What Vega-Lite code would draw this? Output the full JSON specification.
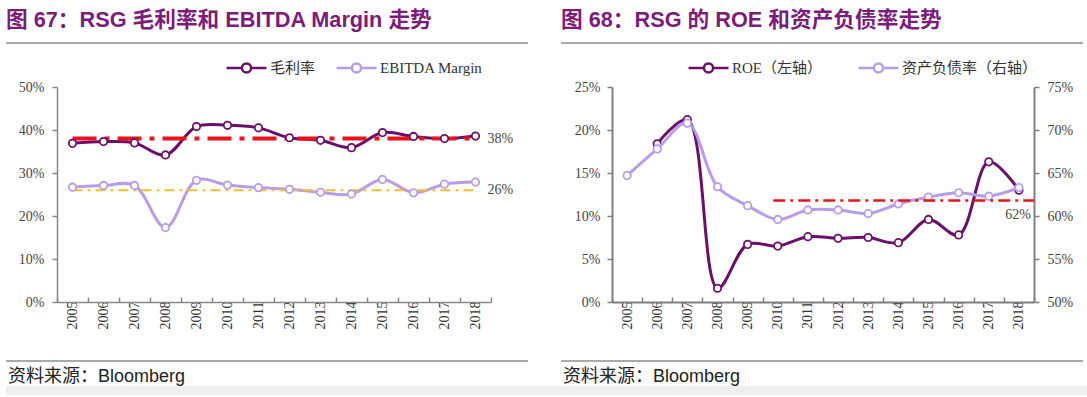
{
  "$schema": "https://vega.github.io/schema/vega-lite/v6.json",
  "padding": {"left": 5, "top": 9, "right": 0, "bottom": 0},
  "background": "white",
  "config": {"view": {"stroke": null}},
  "datasets": {
    "margin": [
      {"year": "2005", "series": "毛利率", "value": 0.369},
      {"year": "2006", "series": "毛利率", "value": 0.373},
      {"year": "2007", "series": "毛利率", "value": 0.370},
      {"year": "2008", "series": "毛利率", "value": 0.342},
      {"year": "2009", "series": "毛利率", "value": 0.408},
      {"year": "2010", "series": "毛利率", "value": 0.411},
      {"year": "2011", "series": "毛利率", "value": 0.405},
      {"year": "2012", "series": "毛利率", "value": 0.382},
      {"year": "2013", "series": "毛利率", "value": 0.376},
      {"year": "2014", "series": "毛利率", "value": 0.359},
      {"year": "2015", "series": "毛利率", "value": 0.394},
      {"year": "2016", "series": "毛利率", "value": 0.385},
      {"year": "2017", "series": "毛利率", "value": 0.380},
      {"year": "2018", "series": "毛利率", "value": 0.386},
      {"year": "2005", "series": "EBITDA Margin", "value": 0.267},
      {"year": "2006", "series": "EBITDA Margin", "value": 0.271},
      {"year": "2007", "series": "EBITDA Margin", "value": 0.271},
      {"year": "2008", "series": "EBITDA Margin", "value": 0.173},
      {"year": "2009", "series": "EBITDA Margin", "value": 0.283},
      {"year": "2010", "series": "EBITDA Margin", "value": 0.272},
      {"year": "2011", "series": "EBITDA Margin", "value": 0.266},
      {"year": "2012", "series": "EBITDA Margin", "value": 0.262},
      {"year": "2013", "series": "EBITDA Margin", "value": 0.255},
      {"year": "2014", "series": "EBITDA Margin", "value": 0.251},
      {"year": "2015", "series": "EBITDA Margin", "value": 0.285},
      {"year": "2016", "series": "EBITDA Margin", "value": 0.254},
      {"year": "2017", "series": "EBITDA Margin", "value": 0.274},
      {"year": "2018", "series": "EBITDA Margin", "value": 0.279}
    ],
    "ref38": [{"year": "2005", "value": 0.38}, {"year": "2018", "value": 0.38}],
    "ref26": [{"year": "2005", "value": 0.26}, {"year": "2018", "value": 0.26}],
    "refLabels": [{"year": "2018", "value": 0.38, "label": "38%"}, {"year": "2018", "value": 0.26, "label": "26%"}],
    "roe": [
      {"year": "2006", "metric": "ROE（左轴）", "value": 0.184},
      {"year": "2007", "metric": "ROE（左轴）", "value": 0.212},
      {"year": "2008", "metric": "ROE（左轴）", "value": 0.016},
      {"year": "2009", "metric": "ROE（左轴）", "value": 0.067},
      {"year": "2010", "metric": "ROE（左轴）", "value": 0.065},
      {"year": "2011", "metric": "ROE（左轴）", "value": 0.076},
      {"year": "2012", "metric": "ROE（左轴）", "value": 0.074},
      {"year": "2013", "metric": "ROE（左轴）", "value": 0.075},
      {"year": "2014", "metric": "ROE（左轴）", "value": 0.069},
      {"year": "2015", "metric": "ROE（左轴）", "value": 0.096},
      {"year": "2016", "metric": "ROE（左轴）", "value": 0.078},
      {"year": "2017", "metric": "ROE（左轴）", "value": 0.163},
      {"year": "2018", "metric": "ROE（左轴）", "value": 0.130}
    ],
    "lev": [
      {"year": "2005", "metric": "资产负债率（右轴）", "value": 0.647},
      {"year": "2006", "metric": "资产负债率（右轴）", "value": 0.678},
      {"year": "2007", "metric": "资产负债率（右轴）", "value": 0.708},
      {"year": "2008", "metric": "资产负债率（右轴）", "value": 0.634},
      {"year": "2009", "metric": "资产负债率（右轴）", "value": 0.612},
      {"year": "2010", "metric": "资产负债率（右轴）", "value": 0.596},
      {"year": "2011", "metric": "资产负债率（右轴）", "value": 0.607},
      {"year": "2012", "metric": "资产负债率（右轴）", "value": 0.607},
      {"year": "2013", "metric": "资产负债率（右轴）", "value": 0.603},
      {"year": "2014", "metric": "资产负债率（右轴）", "value": 0.614},
      {"year": "2015", "metric": "资产负债率（右轴）", "value": 0.622},
      {"year": "2016", "metric": "资产负债率（右轴）", "value": 0.627},
      {"year": "2017", "metric": "资产负债率（右轴）", "value": 0.623},
      {"year": "2018", "metric": "资产负债率（右轴）", "value": 0.633}
    ],
    "ref62": [{"year": "2010", "value": 0.618}],
    "ref62Label": [{"year": "2018", "value": 0.618, "label": "62%"}],
    "sep": [{"start": 0, "end": 1, "pos": 0}],
    "strip": [{"start": 0, "end": 1, "lo": 0, "hi": 1}],
    "head1": [{"x": 0, "pos": 0.767, "label": "图 67：RSG 毛利率和 EBITDA Margin  走势"}],
    "head2": [{"x": 0, "pos": 0.767, "label": "图 68：RSG  的 ROE 和资产负债率走势"}],
    "src": [{"x": 0, "pos": 0.64, "label": "资料来源：Bloomberg"}]
  },
  "resolve": {"scale": {"color": "independent"}, "legend": {"color": "independent"}},
  "spacing": 0,
  "vconcat": [
    {
      "resolve": {"scale": {"color": "independent"}, "legend": {"color": "independent"}},
      "spacing": 31,
      "hconcat": [
        {
          "vconcat": [
            {
              "width": 522, "height": 30,
              "layer": [
                {
                  "data": {"name": "head1"},
                  "mark": {"type": "text", "align": "left", "baseline": "middle", "font": "Liberation Sans, Noto Sans CJK SC", "fontSize": 21.7, "fontWeight": "bold", "color": "#7B1C7A"},
                  "encoding": {
                    "x": {"field": "x", "type": "quantitative", "scale": {"domain": [0, 1]}, "axis": null},
                    "y": {"field": "pos", "type": "quantitative", "scale": {"domain": [0, 1]}, "axis": null},
                    "text": {"field": "label"}
                  }
                },
                {
                  "data": {"name": "sep"},
                  "mark": {"type": "rule", "color": "#555", "strokeWidth": 1},
                  "encoding": {
                    "x": {"field": "start", "type": "quantitative"},
                    "x2": {"field": "end"},
                    "y": {"field": "pos", "type": "quantitative"}
                  }
                }
              ]
            },
            {
              "spacing": 0,
              "resolve": {"scale": {"color": "independent"}, "legend": {"color": "independent"}},
              "hconcat": [
                {
                  "width": 1, "height": 215,
                  "data": {"values": []},
                  "mark": "text",
                  "encoding": {}
                },
                {
                  "width": 434, "height": 215,
                  "layer": [
                    {
                      "data": {"name": "margin"},
                      "mark": {"type": "line", "strokeWidth": 3, "interpolate": "catmull-rom"},
                      "encoding": {
                        "x": {"field": "year", "type": "nominal", "bandPosition": 0.5, "scale": {"type": "band", "domain": ["2005","2006","2007","2008","2009","2010","2011","2012","2013","2014","2015","2016","2017","2018"], "paddingInner": 0, "paddingOuter": 0}, "title": null,
                          "axis": {"title": null, "labelAngle": 270, "labelAlign": "right", "labelBaseline": "middle", "labelFont": "Liberation Serif", "labelFontSize": 14, "labelColor": "#333", "labelPadding": 4, "tickBand": "extent", "tickSize": -5, "tickColor": "#888", "tickWidth": 1.5, "domainColor": "#888", "domainWidth": 1.5, "minExtent": 43}},
                        "y": {"field": "value", "type": "quantitative", "title": null, "scale": {"domain": [0, 0.5], "nice": false},
                          "axis": {"title": null, "values": [0, 0.1, 0.2, 0.3, 0.4, 0.5], "format": ".0%", "grid": false, "labelFont": "Liberation Serif", "labelFontSize": 14, "labelColor": "#444", "tickSize": 5, "labelPadding": 8, "tickColor": "#888", "tickWidth": 1.5, "domainColor": "#888", "domainWidth": 1.5, "minExtent": 50}},
                        "color": {"field": "series", "type": "nominal", "scale": {"domain": ["毛利率", "EBITDA Margin"], "range": ["#6B1068", "#B99CE6"]},
                          "legend": {"orient": "none", "legendX": 181, "legendY": -28, "offset": 0, "direction": "horizontal", "title": null, "symbolType": "M-2.85,0L-0.65,0M0.65,0L2.85,0M0.65,0A0.65,0.65,0,1,1,-0.65,0A0.65,0.65,0,1,1,0.65,0Z", "symbolSize": 196, "symbolStrokeWidth": 2.5, "labelFont": "Liberation Serif, Noto Sans CJK SC", "labelFontSize": 15, "labelColor": "#333", "labelOffset": 15, "columnPadding": 15, "padding": 0, "encode": {"symbols": {"update": {"fill": {"value": "white"}}}}}}
                      }
                    },
                    {
                      "data": {"name": "ref38"},
                      "mark": {"type": "line", "color": "#E8141B", "strokeWidth": 4, "strokeDash": [24, 8, 5, 8]},
                      "encoding": {
                        "x": {"field": "year", "type": "nominal", "bandPosition": 0.5},
                        "y": {"field": "value", "type": "quantitative"}
                      }
                    },
                    {
                      "data": {"name": "ref26"},
                      "mark": {"type": "line", "color": "#F0C030", "strokeWidth": 2, "strokeDash": [10, 5, 3, 5]},
                      "encoding": {
                        "x": {"field": "year", "type": "nominal", "bandPosition": 0.5},
                        "y": {"field": "value", "type": "quantitative"}
                      }
                    },
                    {
                      "data": {"name": "margin"},
                      "mark": {"type": "point", "shape": "circle", "filled": false, "fill": "white", "size": 55, "strokeWidth": 1.8, "opacity": 1},
                      "encoding": {
                        "x": {"field": "year", "type": "nominal", "bandPosition": 0.5},
                        "y": {"field": "value", "type": "quantitative"},
                        "color": {"field": "series", "type": "nominal",
                          "legend": {"orient": "none", "legendX": 181, "legendY": -28, "offset": 0, "direction": "horizontal", "title": null, "symbolType": "M-2.85,0L-0.65,0M0.65,0L2.85,0M0.65,0A0.65,0.65,0,1,1,-0.65,0A0.65,0.65,0,1,1,0.65,0Z", "symbolSize": 196, "symbolStrokeWidth": 2.5, "labelFont": "Liberation Serif, Noto Sans CJK SC", "labelFontSize": 15, "labelColor": "#333", "labelOffset": 15, "columnPadding": 15, "padding": 0, "encode": {"symbols": {"update": {"fill": {"value": "white"}}}}}}
                      }
                    },
                    {
                      "data": {"name": "refLabels"},
                      "mark": {"type": "text", "align": "left", "baseline": "middle", "dx": 12, "font": "Liberation Serif", "fontSize": 14, "color": "#444"},
                      "encoding": {
                        "x": {"field": "year", "type": "nominal", "bandPosition": 0.5},
                        "y": {"field": "value", "type": "quantitative"},
                        "text": {"field": "label"}
                      }
                    }
                  ]
                }
              ]
            },
            {
              "width": 522, "height": 25,
              "layer": [
                {
                  "data": {"name": "sep"},
                  "mark": {"type": "rule", "color": "#555", "strokeWidth": 1},
                  "encoding": {
                    "x": {"field": "start", "type": "quantitative", "scale": {"domain": [0, 1]}, "axis": null},
                    "x2": {"field": "end"},
                    "y": {"field": "pos", "type": "quantitative", "scale": {"domain": [0, 1], "reverse": true}, "axis": null}
                  }
                },
                {
                  "data": {"name": "src"},
                  "mark": {"type": "text", "align": "left", "baseline": "middle", "dx": 2, "font": "Liberation Sans, Noto Sans CJK SC", "fontSize": 18, "color": "#222"},
                  "encoding": {
                    "x": {"field": "x", "type": "quantitative"},
                    "y": {"field": "pos", "type": "quantitative"},
                    "text": {"field": "label"}
                  }
                }
              ]
            }
          ],
          "spacing": 15
        },
        {
          "vconcat": [
            {
              "width": 522, "height": 30,
              "layer": [
                {
                  "data": {"name": "head2"},
                  "mark": {"type": "text", "align": "left", "baseline": "middle", "font": "Liberation Sans, Noto Sans CJK SC", "fontSize": 21.7, "fontWeight": "bold", "color": "#7B1C7A"},
                  "encoding": {
                    "x": {"field": "x", "type": "quantitative", "scale": {"domain": [0, 1]}, "axis": null},
                    "y": {"field": "pos", "type": "quantitative", "scale": {"domain": [0, 1]}, "axis": null},
                    "text": {"field": "label"}
                  }
                },
                {
                  "data": {"name": "sep"},
                  "mark": {"type": "rule", "color": "#555", "strokeWidth": 1},
                  "encoding": {
                    "x": {"field": "start", "type": "quantitative"},
                    "x2": {"field": "end"},
                    "y": {"field": "pos", "type": "quantitative"}
                  }
                }
              ]
            },
            {
              "spacing": 0,
              "resolve": {"scale": {"color": "independent"}, "legend": {"color": "independent"}},
              "hconcat": [
                {
                  "width": 1, "height": 215,
                  "data": {"values": []},
                  "mark": "text",
                  "encoding": {}
                },
                {
                  "width": 422, "height": 215,
                  "layer": [
                    {
                      "layer": [
                        {
                          "data": {"name": "roe"},
                          "mark": {"type": "line", "strokeWidth": 3, "interpolate": "catmull-rom"},
                          "encoding": {
                            "x": {"field": "year", "type": "nominal", "bandPosition": 0.5, "scale": {"type": "band", "domain": ["2005","2006","2007","2008","2009","2010","2011","2012","2013","2014","2015","2016","2017","2018"], "paddingInner": 0, "paddingOuter": 0}, "title": null,
                              "axis": {"title": null, "labelAngle": 270, "labelAlign": "right", "labelBaseline": "middle", "labelFont": "Liberation Serif", "labelFontSize": 14, "labelColor": "#333", "labelPadding": 4, "tickBand": "extent", "tickSize": -5, "tickColor": "#7f7f7f", "tickWidth": 1.5, "domainColor": "#7f7f7f", "domainWidth": 2, "minExtent": 43}},
                            "y": {"field": "value", "type": "quantitative", "title": null, "scale": {"domain": [0, 0.25], "nice": false},
                              "axis": {"title": null, "orient": "left", "values": [0, 0.05, 0.1, 0.15, 0.2, 0.25], "format": ".0%", "grid": false, "labelFont": "Liberation Serif", "labelFontSize": 14, "labelColor": "#444", "tickSize": 5, "labelPadding": 7, "tickColor": "#7f7f7f", "tickWidth": 1.5, "domainColor": "#7f7f7f", "domainWidth": 2, "minExtent": 50}},
                            "color": {"field": "metric", "type": "nominal", "scale": {"domain": ["ROE（左轴）", "资产负债率（右轴）"], "range": ["#6B1068", "#B99CE6"]},
                              "legend": {"orient": "none", "legendX": 88, "legendY": -28, "offset": 0, "direction": "horizontal", "title": null, "symbolType": "M-2.85,0L-0.65,0M0.65,0L2.85,0M0.65,0A0.65,0.65,0,1,1,-0.65,0A0.65,0.65,0,1,1,0.65,0Z", "symbolSize": 196, "symbolStrokeWidth": 2.5, "labelFont": "Liberation Serif, Noto Sans CJK SC", "labelFontSize": 15, "labelColor": "#333", "labelOffset": 15, "columnPadding": 30, "padding": 0, "encode": {"symbols": {"update": {"fill": {"value": "white"}}}}}}
                          }
                        },
                        {
                          "data": {"name": "roe"},
                          "mark": {"type": "point", "shape": "circle", "filled": false, "fill": "white", "size": 55, "strokeWidth": 1.8, "opacity": 1},
                          "encoding": {
                            "x": {"field": "year", "type": "nominal", "bandPosition": 0.5},
                            "y": {"field": "value", "type": "quantitative"},
                            "color": {"field": "metric", "type": "nominal",
                              "legend": {"orient": "none", "legendX": 88, "legendY": -28, "offset": 0, "direction": "horizontal", "title": null, "symbolType": "M-2.85,0L-0.65,0M0.65,0L2.85,0M0.65,0A0.65,0.65,0,1,1,-0.65,0A0.65,0.65,0,1,1,0.65,0Z", "symbolSize": 196, "symbolStrokeWidth": 2.5, "labelFont": "Liberation Serif, Noto Sans CJK SC", "labelFontSize": 15, "labelColor": "#333", "labelOffset": 15, "columnPadding": 30, "padding": 0, "encode": {"symbols": {"update": {"fill": {"value": "white"}}}}}}
                          }
                        }
                      ]
                    },
                    {
                      "layer": [
                        {
                          "data": {"name": "lev"},
                          "mark": {"type": "line", "strokeWidth": 3, "interpolate": "catmull-rom"},
                          "encoding": {
                            "x": {"field": "year", "type": "nominal", "bandPosition": 0.5},
                            "y": {"field": "value", "type": "quantitative", "title": null, "scale": {"domain": [0.5, 0.75], "nice": false, "zero": false},
                              "axis": {"title": null, "orient": "right", "values": [0.5, 0.55, 0.6, 0.65, 0.7, 0.75], "format": ".0%", "grid": false, "labelFont": "Liberation Serif", "labelFontSize": 14, "labelColor": "#444", "tickSize": 5, "labelPadding": 8, "tickColor": "#7f7f7f", "tickWidth": 1.5, "domainColor": "#7f7f7f", "domainWidth": 2}},
                            "color": {"field": "metric", "type": "nominal",
                              "legend": {"orient": "none", "legendX": 88, "legendY": -28, "offset": 0, "direction": "horizontal", "title": null, "symbolType": "M-2.85,0L-0.65,0M0.65,0L2.85,0M0.65,0A0.65,0.65,0,1,1,-0.65,0A0.65,0.65,0,1,1,0.65,0Z", "symbolSize": 196, "symbolStrokeWidth": 2.5, "labelFont": "Liberation Serif, Noto Sans CJK SC", "labelFontSize": 15, "labelColor": "#333", "labelOffset": 15, "columnPadding": 30, "padding": 0, "encode": {"symbols": {"update": {"fill": {"value": "white"}}}}}}
                          }
                        },
                        {
                          "data": {"name": "lev"},
                          "mark": {"type": "point", "shape": "circle", "filled": false, "fill": "white", "size": 55, "strokeWidth": 1.8, "opacity": 1},
                          "encoding": {
                            "x": {"field": "year", "type": "nominal", "bandPosition": 0.5},
                            "y": {"field": "value", "type": "quantitative"},
                            "color": {"field": "metric", "type": "nominal",
                              "legend": {"orient": "none", "legendX": 88, "legendY": -28, "offset": 0, "direction": "horizontal", "title": null, "symbolType": "M-2.85,0L-0.65,0M0.65,0L2.85,0M0.65,0A0.65,0.65,0,1,1,-0.65,0A0.65,0.65,0,1,1,0.65,0Z", "symbolSize": 196, "symbolStrokeWidth": 2.5, "labelFont": "Liberation Serif, Noto Sans CJK SC", "labelFontSize": 15, "labelColor": "#333", "labelOffset": 15, "columnPadding": 30, "padding": 0, "encode": {"symbols": {"update": {"fill": {"value": "white"}}}}}}
                          }
                        },
                        {
                          "data": {"name": "ref62"},
                          "mark": {"type": "rule", "color": "#E8141B", "strokeWidth": 2.5, "strokeDash": [12, 5, 3, 5]},
                          "encoding": {
                            "x": {"field": "year", "type": "nominal", "bandPosition": 0.35},
                            "x2": {"value": "width"},
                            "y": {"field": "value", "type": "quantitative"}
                          }
                        },
                        {
                          "data": {"name": "ref62Label"},
                          "mark": {"type": "text", "align": "right", "baseline": "middle", "dx": -3, "dy": 14, "font": "Liberation Serif", "fontSize": 14, "color": "#444"},
                          "encoding": {
                            "x": {"field": "year", "type": "nominal", "bandPosition": 1},
                            "y": {"field": "value", "type": "quantitative"},
                            "text": {"field": "label"}
                          }
                        }
                      ]
                    }
                  ],
                  "resolve": {"scale": {"y": "independent"}}
                }
              ]
            },
            {
              "width": 522, "height": 25,
              "layer": [
                {
                  "data": {"name": "sep"},
                  "mark": {"type": "rule", "color": "#555", "strokeWidth": 1},
                  "encoding": {
                    "x": {"field": "start", "type": "quantitative", "scale": {"domain": [0, 1]}, "axis": null},
                    "x2": {"field": "end"},
                    "y": {"field": "pos", "type": "quantitative", "scale": {"domain": [0, 1], "reverse": true}, "axis": null}
                  }
                },
                {
                  "data": {"name": "src"},
                  "mark": {"type": "text", "align": "left", "baseline": "middle", "dx": 2, "font": "Liberation Sans, Noto Sans CJK SC", "fontSize": 18, "color": "#222"},
                  "encoding": {
                    "x": {"field": "x", "type": "quantitative"},
                    "y": {"field": "pos", "type": "quantitative"},
                    "text": {"field": "label"}
                  }
                }
              ]
            }
          ],
          "spacing": 15
        }
      ]
    },
    {
      "width": 1082, "height": 9,
      "data": {"name": "strip"},
      "mark": {"type": "rect", "color": "#efefef"},
      "encoding": {
        "x": {"field": "start", "type": "quantitative", "scale": {"domain": [0, 1]}, "axis": null},
        "x2": {"field": "end"},
        "y": {"field": "lo", "type": "quantitative", "scale": {"domain": [0, 1]}, "axis": null},
        "y2": {"field": "hi"}
      }
    }
  ]
}
